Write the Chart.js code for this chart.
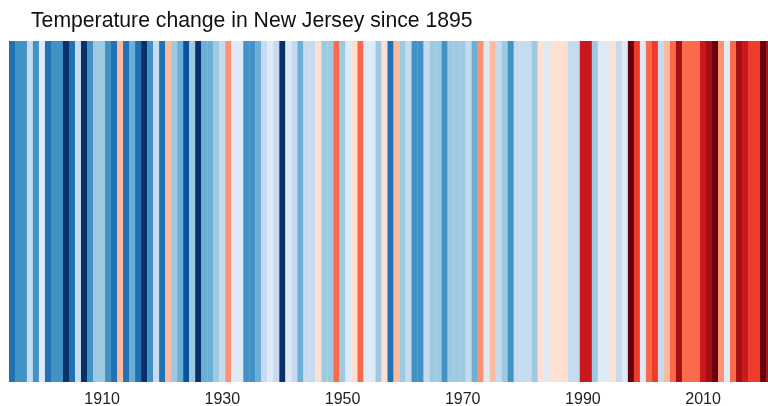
<!DOCTYPE html>
<html>
<head>
<meta charset="utf-8">
<script src="https://cdn.jsdelivr.net/npm/chart.js@4.4.1/dist/chart.umd.min.js"></script>
<style>
  html, body { margin: 0; padding: 0; background: #fff; }
  #wrap { width: 768px; height: 406px; }
</style>
</head>
<body>
<div id="wrap"><canvas id="stripes"></canvas></div>
<script>
const titleText = 'Temperature change in New Jersey since 1895';
const firstYear = 1895;

// estimated anomaly per year (deg C), read from stripe colours
const anomalies = [
  -1.1, -0.9, -0.9, -0.3, -0.9,
  -0.1, -1.1, -0.9, -0.9, -1.5, -1.1, -0.3, -1.5, -0.9, -0.5,
  -0.5, -0.9, -1.1, 0.3, -1.1, -0.7, -1.1, -1.5, -0.9, -0.3,
  -1.1, 0.3, -0.5, -0.7, -1.3, -0.5, -1.5, -0.7, -0.7, -0.5,
  -0.3, 0.5, -0.1, -0.1, -0.9, -0.9, -0.7, -0.3, -0.1, -0.3,
  -1.5, -0.1, -0.3, -0.7, -0.3, -0.3, 0.1, -0.5, -0.5, 0.7,
  -0.5, -0.1, 0.1, 0.7, -0.1, -0.1, -0.5, 0.1, -1.1, 0.3,
  -0.5, -0.3, -0.9, -0.9, -0.3, -0.5, -0.5, -0.9, -0.5, -0.5,
  -0.5, -0.3, -0.7, 0.5, -0.1, 0.3, -0.3, -0.5, -0.9, -0.3,
  -0.3, -0.3, -0.5, 0.1, -0.1, 0.1, 0.1, 0.1, -0.3, -0.3,
  1.1, 1.1, -0.5, -0.1, -0.1, 0.1, -0.3, -0.1, 1.5, 0.9,
  -0.1, 0.7, 0.9, -0.3, 0.3, 0.7, 1.3, 0.7, 0.7, 0.7,
  1.1, 1.3, 1.5, 0.5, -0.1, 0.7, 1.3, 1.1, 0.9, 0.9,
  1.5, 1.3
];

const tickYears = [1910, 1930, 1950, 1970, 1990, 2010];

// colorbrewer blues + reds, 0.2 deg bins from -1.6 to +1.6
const palette = [
  '#08306b', '#08519c', '#2171b5', '#4292c6', '#6baed6', '#9ecae1', '#c6dbef', '#deebf7',
  '#fee0d2', '#fcbba1', '#fc9272', '#fb6a4a', '#ef3b2c', '#cb181d', '#a50f15', '#67000d'
];

function stripeColor(v) {
  let i = Math.floor((v + 1.6) / 0.2 + 1e-9);
  i = Math.max(0, Math.min(palette.length - 1, i));
  return palette[i];
}

const years = anomalies.map((v, i) => firstYear + i);
const points = years.map(y => ({ x: y, y: 1 }));

// draw the title where the original has it
const titlePlugin = {
  id: 'leftTitle',
  afterDraw(chart) {
    const ctx = chart.ctx;
    ctx.save();
    ctx.fillStyle = '#111';
    ctx.font = '21.2px "Liberation Sans", Arial, sans-serif';
    ctx.textBaseline = 'alphabetic';
    ctx.textAlign = 'left';
    ctx.fillText(titleText, 31, 26.5);
    ctx.restore();
  }
};

new Chart(document.getElementById('stripes'), {
  type: 'bar',
  data: {
    datasets: [{
      data: points,
      backgroundColor: anomalies.map(stripeColor),
      borderWidth: 0,
      barPercentage: 1.04,
      categoryPercentage: 1
    }]
  },
  options: {
    responsive: true,
    maintainAspectRatio: false,
    animation: false,
    layout: { padding: { top: 41, left: 9, right: 0, bottom: 0 } },
    plugins: {
      legend: { display: false },
      tooltip: { enabled: false },
      title: { display: false }
    },
    scales: {
      x: {
        type: 'linear',
        offset: false,
        min: 1894.5,
        max: 2020.8,
        grid: { display: false, drawTicks: false },
        border: { display: false },
        afterBuildTicks(scale) {
          scale.ticks = tickYears.map(v => ({ value: v }));
        },
        afterFit(scale) {
          scale.height = 24;
        },
        ticks: {
          padding: 10,
          autoSkip: false,
          maxRotation: 0,
          color: '#222',
          font: { size: 16, family: '"Liberation Sans", Arial, sans-serif', lineHeight: 1 },
          callback: v => String(v)
        }
      },
      y: {
        display: false,
        min: 0,
        max: 1
      }
    }
  },
  plugins: [titlePlugin]
});
</script>
</body>
</html>
